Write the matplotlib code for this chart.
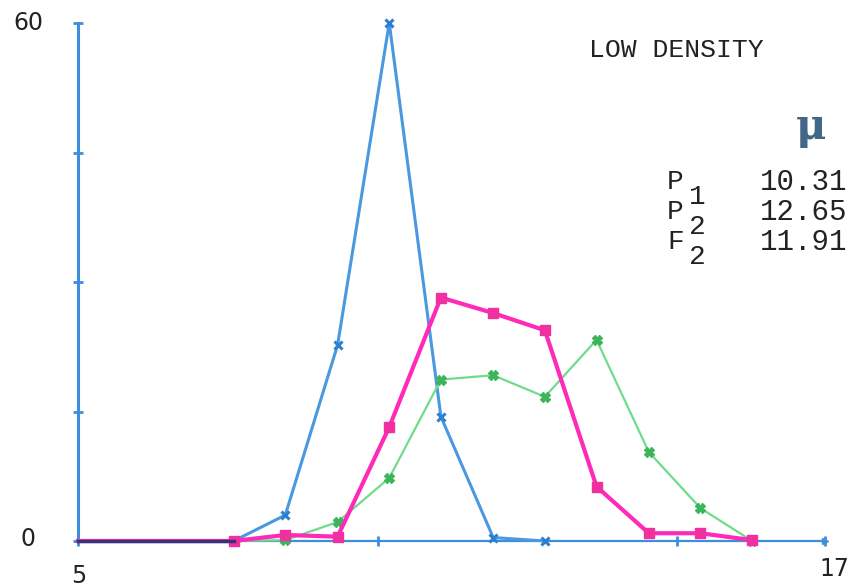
import numpy as np
import matplotlib.pyplot as plt

# class midpoints (x) and frequencies
x = [5.0, 7.5, 8.33, 9.17, 10.0, 10.83, 11.67, 12.5, 13.33, 14.17, 15.0, 15.83]
p1 = [0, 0, 3.0, 22.7, 60.0, 14.4, 0.4, 0.0]
p2 = [0, 0, 0.7, 0.5, 13.2, 28.2, 26.4, 24.4, 6.3, 0.9, 0.9, 0.1]
f2 = [0, 0, 0.1, 2.2, 7.3, 18.7, 19.2, 16.7, 23.3, 10.3, 3.8, 0.0]

means_lab = ["P", "P", "F"]
means_sub = ["1", "2", "2"]
means_val = ["10.31", "12.65", "11.91"]

axis_col = "#3d8fdc"
mono = "Liberation Mono"

fig = plt.figure(figsize=(8.53, 5.88), dpi=100)
fig.patch.set_facecolor("white")
ax = fig.add_axes([78 / 853, 1 - 541 / 588, (825 - 78) / 853, (541 - 23) / 588])
ax.set_xlim(5, 17)
ax.set_ylim(0, 60)

for s in ["top", "right"]:
    ax.spines[s].set_visible(False)
ax.spines["left"].set_color(axis_col)
ax.spines["left"].set_linewidth(2.2)
ax.spines["bottom"].set_color(axis_col)
ax.spines["bottom"].set_linewidth(1.6)
ax.spines["left"].set_zorder(1)
ax.spines["bottom"].set_zorder(1)

ax.set_yticks([0, 15, 30, 45, 60])
ax.set_yticklabels([])
ax.set_xticks([5, 9.82, 14.62, 17])
ax.set_xticklabels([])
ax.tick_params(axis="both", direction="inout", length=7, width=2, color=axis_col)
ax.plot([17], [0], marker=">", color=axis_col, ms=5, clip_on=False)

ax.plot(x[:len(p1)], p1, color="#4a98e0", lw=2.2, marker="x", ms=6, mew=2.2,
        mec="#2f7fd0", markevery=range(1, len(p1)), clip_on=False, zorder=3)
ax.plot(x, f2, color="#6fdc8c", lw=1.6, marker="X", ms=7, mfc="#3cb55a",
        mec="#3cb55a", markevery=range(1, len(f2)), clip_on=False, zorder=4)
ax.plot(x, p2, color="#ff2ab8", lw=3.0, marker="s", ms=7, mfc="#f0309f",
        mec="#f0309f", markevery=range(1, len(p2)), clip_on=False, zorder=5)
ax.plot([5, 7.5], [0, 0], color="#3b2f7a", lw=2.5, zorder=6, clip_on=False)

# axis end labels
fig.text(28 / 853, 1 - 23 / 588, "60", fontsize=17, ha="center", va="center", color="#222222")
fig.text(28 / 853, 1 - 539 / 588, "0", fontsize=17, ha="center", va="center", color="#222222")
fig.text(79 / 853, 1 - 576 / 588, "5", fontsize=17, ha="center", va="center", color="#222222")
fig.text(834 / 853, 1 - 569 / 588, "17", fontsize=17, ha="center", va="center", color="#222222")

# annotation block
fig.text(589 / 853, 1 - 50 / 588, "LOW DENSITY", fontsize=19, family=mono,
         ha="left", va="center", color="#222222")
fig.text(811 / 853, 1 - 127 / 588, "μ", fontsize=30, family="DejaVu Serif", weight="bold",
         ha="center", va="center", color="#426786")
for i in range(3):
    yc = 182 + 30 * i
    fig.text(667 / 853, 1 - yc / 588, means_lab[i], fontsize=20, family=mono,
             ha="left", va="center", color="#222222")
    fig.text(689 / 853, 1 - (yc + 15) / 588, means_sub[i], fontsize=20, family=mono,
             ha="left", va="center", color="#222222")
    fig.text(847 / 853, 1 - yc / 588, means_val[i], fontsize=21, family=mono,
             ha="right", va="center", color="#222222")

fig.savefig("out.png", dpi=100, facecolor="white")
